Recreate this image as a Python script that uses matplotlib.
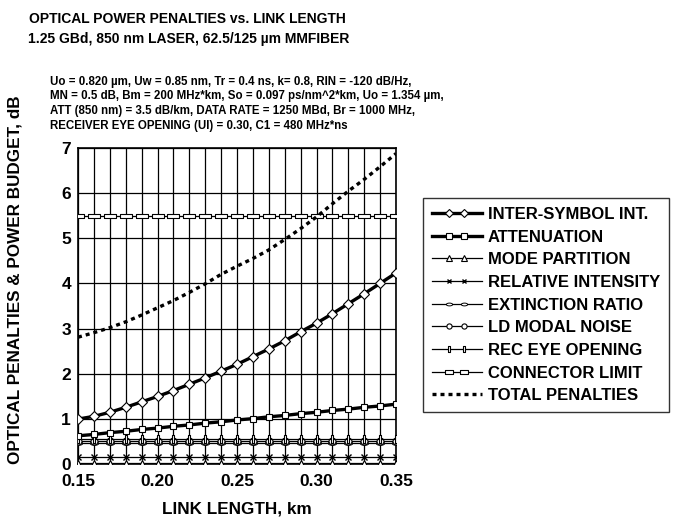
import matplotlib
matplotlib.use("Agg")
import matplotlib.pyplot as plt
from matplotlib.legend_handler import HandlerLine2D
import numpy as np

plt.rcParams['font.family'] = ['Liberation Sans', 'DejaVu Sans']
plt.rcParams['font.weight'] = 'bold'

link_km = [0.15, 0.16, 0.17, 0.18, 0.19, 0.20, 0.21, 0.22, 0.23, 0.24, 0.25,
           0.26, 0.27, 0.28, 0.29, 0.30, 0.31, 0.32, 0.33, 0.34, 0.35]
isi = [1.00, 1.06, 1.15, 1.26, 1.38, 1.50, 1.63, 1.77, 1.91, 2.06, 2.21,
       2.38, 2.55, 2.73, 2.93, 3.12, 3.33, 3.55, 3.77, 4.00, 4.23]
attenuation = [0.63, 0.66, 0.70, 0.73, 0.77, 0.80, 0.84, 0.87, 0.91, 0.94, 0.98,
               1.01, 1.05, 1.08, 1.12, 1.15, 1.19, 1.22, 1.26, 1.29, 1.33]
mode_partition = [0.02] * 21
relative_intensity = [0.16] * 21
extinction_ratio = [0.46] * 21
ld_modal_noise = [0.52] * 21
rec_eye_opening = [0.56] * 21
connector_limit = [5.5] * 21
total_penalties = [2.81, 2.91, 3.02, 3.15, 3.30, 3.46, 3.62, 3.80, 3.99, 4.20, 4.38,
                   4.55, 4.74, 4.97, 5.21, 5.47, 5.76, 6.04, 6.30, 6.58, 6.87]

x_ticks = [0.15, 0.20, 0.25, 0.30, 0.35]
x_tick_labels = ["0.15", "0.20", "0.25", "0.30", "0.35"]
y_ticks = [0, 1, 2, 3, 4, 5, 6, 7]

hrect = [(-1, -0.38), (1, -0.38), (1, 0.38), (-1, 0.38), (-1, -0.38)]
vrect = [(-0.35, -1), (0.35, -1), (0.35, 1), (-0.35, 1), (-0.35, -1)]
oval = [(np.cos(t), 0.45 * np.sin(t)) for t in np.linspace(0, 2 * np.pi, 25)]


class InnerMarkerHandler(HandlerLine2D):
    def get_xdata(self, legend, xdescent, ydescent, width, height, fontsize):
        x0 = -xdescent
        xdata = np.array([x0, x0 + width * 0.33, x0 + width * 0.63, x0 + width])
        return xdata, xdata

    def create_artists(self, *args, **kwargs):
        arts = super().create_artists(*args, **kwargs)
        for a in arts:
            a.set_markevery([1, 2])
        return arts


fig = plt.figure(figsize=(6.74, 5.19), dpi=100)
ax = fig.add_axes([78/674, 1 - 464.3/519, (396 - 78)/674, (464.3 - 147.7)/519])

ax.set_xlim(0.15, 0.35)
ax.set_ylim(0, 7)
for xv in np.arange(0.15, 0.3501, 0.01):
    ax.axvline(xv, color='black', lw=0.9, zorder=1)
for yv in y_ticks:
    ax.axhline(yv, color='black', lw=0.9, zorder=1)

thin = 0.9
h = []
h += ax.plot(link_km, isi, color='black', lw=2.4, marker='D', ms=5, mfc='white', mec='black', mew=0.8,
             label='INTER-SYMBOL INT.', zorder=5)
h += ax.plot(link_km, attenuation, color='black', lw=2.4, marker='s', ms=5, mfc='white', mec='black', mew=0.8,
             label='ATTENUATION', zorder=5)
h += ax.plot(link_km, mode_partition, color='black', lw=thin, marker='^', ms=5, mfc='white', mec='black', mew=0.8,
             label='MODE PARTITION', zorder=4)
h += ax.plot(link_km, relative_intensity, color='black', lw=thin, marker='x', ms=4, mec='black', mew=1.0,
             label='RELATIVE INTENSITY', zorder=4)
h += ax.plot(link_km, extinction_ratio, color='black', lw=thin, marker=oval, ms=6, mfc='white', mec='black', mew=0.7,
             label='EXTINCTION RATIO', zorder=4)
h += ax.plot(link_km, ld_modal_noise, color='black', lw=thin, marker='o', ms=5, mfc='white', mec='black', mew=0.8,
             label='LD MODAL NOISE', zorder=4)
h += ax.plot(link_km, rec_eye_opening, color='black', lw=thin, marker=vrect, ms=6, mfc='white', mec='black', mew=0.8,
             label='REC EYE OPENING', zorder=4)
h += ax.plot(link_km, connector_limit, color='black', lw=thin, marker=hrect, ms=8, mfc='white', mec='black', mew=0.8,
             label='CONNECTOR LIMIT', zorder=4)
h += ax.plot(link_km, total_penalties, color='black', lw=2.4, ls=(0, (1.2, 1.2)),
             label='TOTAL PENALTIES', zorder=5)

ax.set_xticks(x_ticks)
ax.set_xticklabels(x_tick_labels, fontsize=12.5, fontweight='bold')
ax.set_yticks(y_ticks)
ax.set_yticklabels([str(v) for v in y_ticks], fontsize=12.5, fontweight='bold')
ax.tick_params(axis='x', length=0, pad=7)
ax.tick_params(axis='y', length=0, pad=5)
for s in ax.spines.values():
    s.set_linewidth(1.2)

fig.text(237/674, 1 - 509/519, 'LINK LENGTH, km', ha='center', va='center', fontsize=12.3, fontweight='bold')
fig.text(15/674, 1 - 280/519, 'OPTICAL PENALTIES & POWER BUDGET, dB', rotation=90,
         ha='center', va='center', fontsize=12.3, fontweight='bold')

fig.text(29/674, 1 - 19/519, 'OPTICAL POWER PENALTIES vs. LINK LENGTH', ha='left', va='center',
         fontsize=10, fontweight='bold')
fig.text(28/674, 1 - 39/519, '1.25 GBd, 850 nm LASER, 62.5/125 \u00b5m MMFIBER', ha='left', va='center',
         fontsize=10, fontweight='bold')

params = ["Uo = 0.820 \u00b5m, Uw = 0.85 nm, Tr = 0.4 ns, k= 0.8, RIN = -120 dB/Hz,",
          "MN = 0.5 dB, Bm = 200 MHz*km, So = 0.097 ps/nm^2*km, Uo = 1.354 \u00b5m,",
          "ATT (850 nm) = 3.5 dB/km, DATA RATE = 1250 MBd, Br = 1000 MHz,",
          "RECEIVER EYE OPENING (UI) = 0.30, C1 = 480 MHz*ns"]
for i, line in enumerate(params):
    fig.text(50/674, 1 - (82 + i*14.5)/519, line, ha='left', va='center', fontsize=8.3, fontweight='bold')

leg = ax.legend(handles=h, loc='upper left', bbox_to_anchor=(423/674, 1 - 197.7/519),
                bbox_transform=fig.transFigure, borderaxespad=0, frameon=True, fancybox=False,
                prop={'weight': 'bold', 'size': 12.0}, handlelength=3.0, labelspacing=0.46,
                borderpad=0.55, handletextpad=0.35, markerscale=0.75,
                handler_map={type(h[0]): InnerMarkerHandler(numpoints=4)})
leg.get_frame().set_edgecolor('black')
leg.get_frame().set_linewidth(1.0)

fig.savefig('out.png', dpi=100)
